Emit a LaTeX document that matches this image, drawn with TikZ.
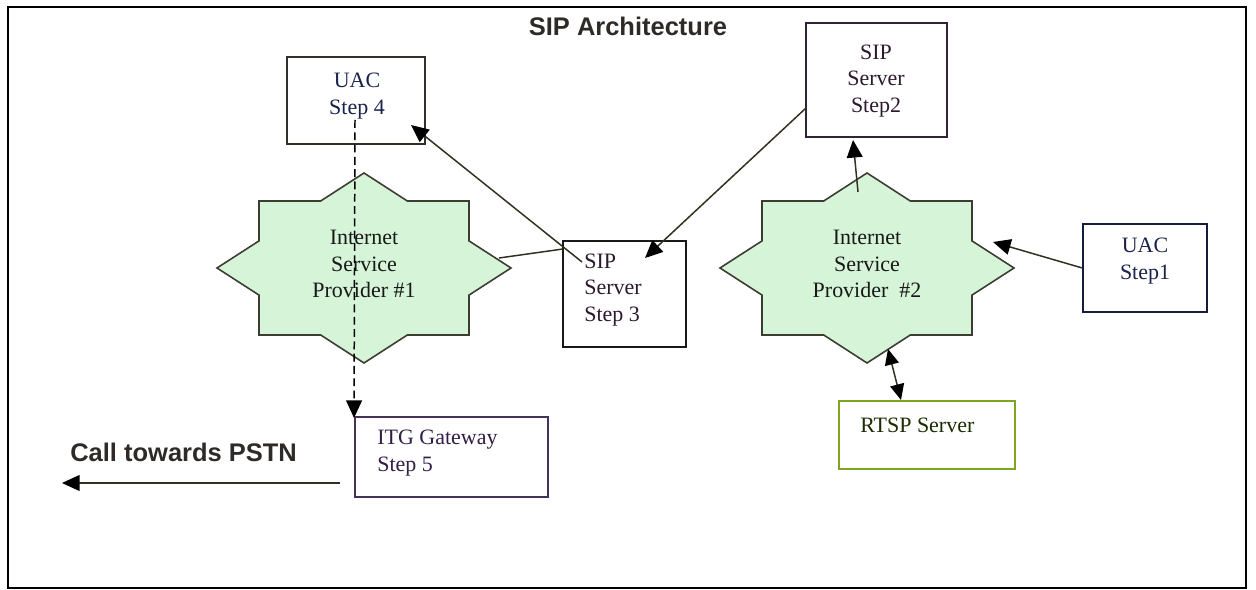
\documentclass[tikz,border=0pt]{standalone}
\usepackage{fontspec}
\setmainfont{Liberation Serif}
\newfontfamily\headfont{Liberation Sans}
\usetikzlibrary{arrows.meta,calc}

\definecolor{ispfill}{RGB}{214,244,216}
\definecolor{ispline}{RGB}{60,60,50}
\definecolor{wire}{RGB}{50,48,30}
\definecolor{uacink}{RGB}{25,35,75}
\definecolor{srvink}{RGB}{45,25,45}
\definecolor{itgink}{RGB}{50,30,70}
\definecolor{itgline}{RGB}{70,50,85}
\definecolor{srvline}{RGB}{50,35,55}
\definecolor{rtspline}{RGB}{125,165,35}
\definecolor{rtspink}{RGB}{25,45,0}

\tikzset{
  frame/.style={draw=black, line width=1.2pt},
  boxnode/.style={draw, line width=0.9pt, inner sep=0pt, fill=white},
  labeltext/.style={inner sep=0pt, font=\fontsize{12.5}{15.3}\selectfont},
  headtext/.style={inner sep=0pt, font=\headfont\bfseries\fontsize{14.5}{17}\selectfont, text=black!90!olive},
  cloud/.style={draw=ispline, fill=ispfill, line width=0.9pt, line join=miter},
  wireline/.style={draw=wire, line width=0.85pt},
  tip/.style={-{Triangle[length=10pt,width=9pt,color=black]}},
  bothtips/.style={{Triangle[length=9pt,width=8pt,color=black]}-{Triangle[length=9pt,width=8pt,color=black]}},
}

\begin{document}
\begin{tikzpicture}[x=0.02cm, y=-0.02cm]
\useasboundingbox (0,0) rectangle (1256,590);

% outer frame
\draw[frame] (8,7) rectangle (1246,588);

% title
\node[headtext] (title) at (628,26) {SIP Architecture};

% provider clouds: union of a rectangle and a diamond
\coordinate (isp1) at (364,268);
\coordinate (isp2) at (867,268);
\foreach \c in {isp1,isp2}{
  \begin{scope}[shift={(\c)}]
    \draw[cloud] (0,-95) -- (43.3,-67) -- (105,-67) -- (105,-27.1) -- (147,0)
      -- (105,27.1) -- (105,67) -- (43.3,67) -- (0,95) -- (-43.3,67) -- (-105,67)
      -- (-105,27.1) -- (-147,0) -- (-105,-27.1) -- (-105,-67) -- (-43.3,-67) -- cycle;
  \end{scope}
}
\node[labeltext, align=center, text=black!90] (isp1txt) at (364,264) {Internet\\Service\\Provider \#1};
\node[labeltext, align=center, text=black!90] (isp2txt) at (867,264) {Internet\\Service\\Provider\ \ \#2};

% boxes
\node[boxnode, draw=black!85!olive, minimum width=2.76cm, minimum height=1.74cm] (uac4) at (356,100.5) {};
\node[boxnode, draw=srvline, minimum width=2.82cm, minimum height=2.28cm] (step2) at (876.5,80) {};
\node[boxnode, draw=black!90, minimum width=2.46cm, minimum height=2.12cm] (step3) at (624.5,294) {};
\node[boxnode, draw=uacink!80!black, minimum width=2.48cm, minimum height=1.76cm] (uac1) at (1145,268) {};
\node[boxnode, draw=itgline, minimum width=3.86cm, minimum height=1.6cm] (itg) at (451.5,457) {};
\node[boxnode, draw=rtspline, line width=1.2pt, minimum width=3.52cm, minimum height=1.36cm] (rtsp) at (927,435) {};

% box texts
\node[labeltext, align=center, text=uacink] (uac4txt) at (357,96.5) {UAC\\Step 4};
\node[labeltext, align=center, text=srvink] (step2txt) at (876,81) {SIP\\Server\\Step2};
\node[labeltext, align=left, anchor=west, text=srvink] (step3txt) at (584,290) {SIP\\Server\\Step 3};
\node[labeltext, align=center, text=uacink] (uac1txt) at (1145,261) {UAC\\Step1};
\node[labeltext, align=left, anchor=west, text=itgink] (itgtxt) at (377,453) {ITG Gateway\\Step 5};
\node[labeltext, anchor=west, text=rtspink] (rtsptxt) at (860,425) {RTSP Server};
\node[headtext, anchor=west] (pstn) at (70,452) {Call towards PSTN};

% connector end points
\coordinate (uac1out) at (uac1.west);
\coordinate (isp2in) at (993,242);
\coordinate (isp2top) at (858,192);
\coordinate (step2in) at (853,140);
\coordinate (step2out) at (806,108);
\coordinate (step3in) at (645,258);
\coordinate (step3out) at (582,262);
\coordinate (uac4in) at (411,125);
\coordinate (isp1edge) at (499,258);
\coordinate (step3edge) at (563,249);
\coordinate (uac4out) at (355,120);
\coordinate (itgin) at (354,418);
\coordinate (isp2low) at (888,349);
\coordinate (rtspin) at (901,400);
\coordinate (itgout) at (340,483);
\coordinate (pstnend) at (62,483);

% connectors
\draw[wireline, tip] (uac1out) -- (isp2in);
\draw[wireline, tip] (isp2top) -- (step2in);
\draw[wireline, tip] (step2out) -- (step3in);
\draw[wireline, tip] (step3out) -- (uac4in);
\draw[wireline] (isp1edge) -- (step3edge);
\draw[draw=black, line width=0.85pt, dash pattern=on 4.5pt off 2.5pt, tip] (uac4out) -- (itgin);
\draw[wireline, bothtips] (isp2low) -- (rtspin);
\draw[wireline, tip] (itgout) -- (pstnend);
\end{tikzpicture}
\end{document}
